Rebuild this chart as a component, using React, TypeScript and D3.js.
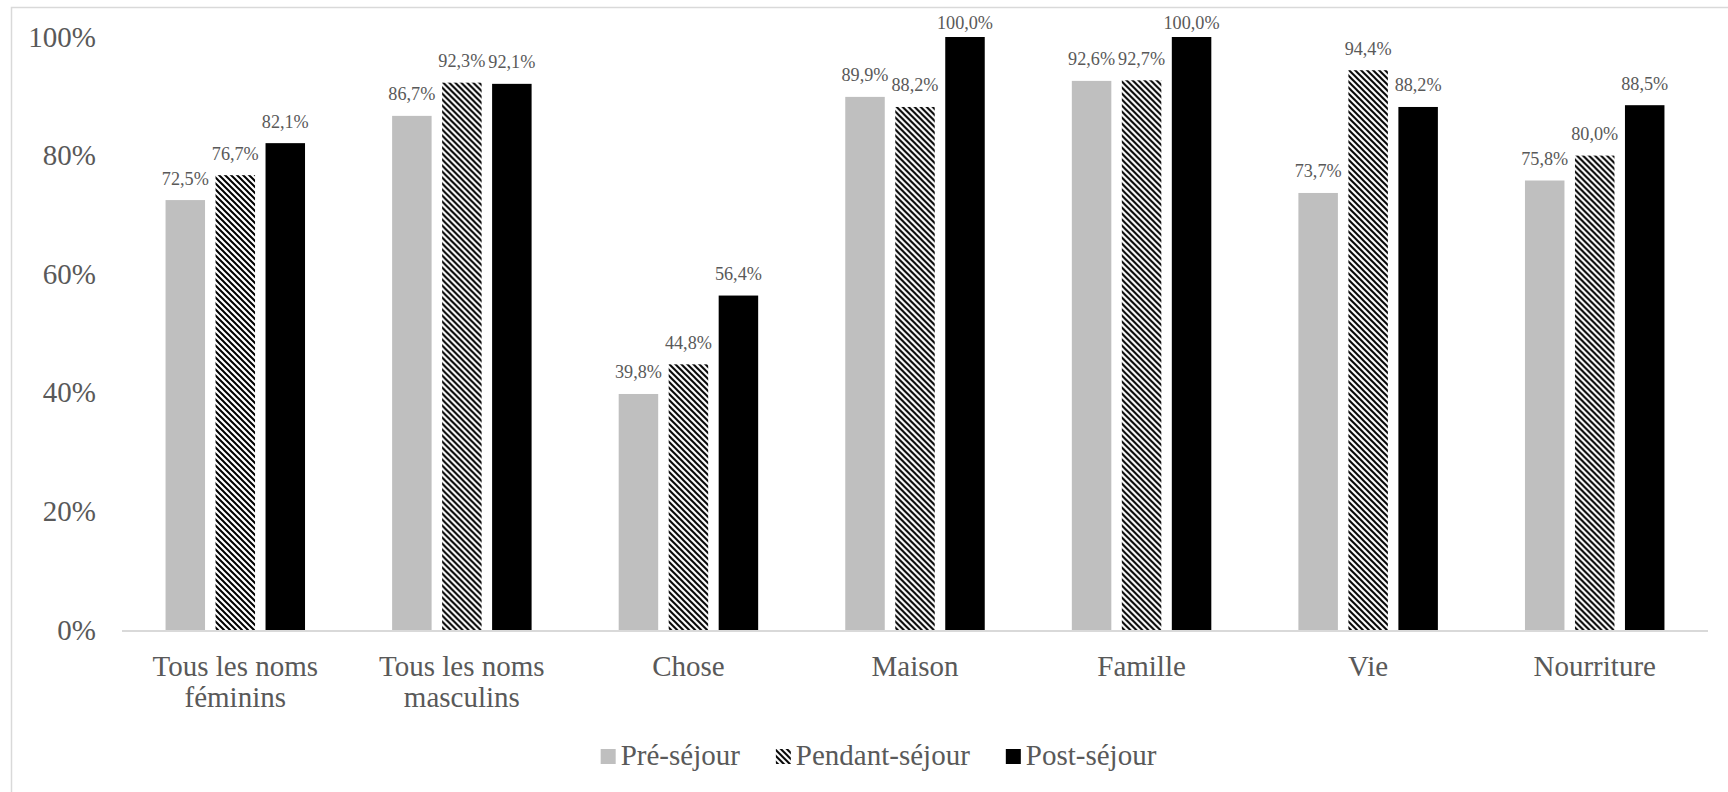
import React from "react";
import * as d3 from "d3";

const categories = [
  "Tous les noms féminins",
  "Tous les noms masculins",
  "Chose",
  "Maison",
  "Famille",
  "Vie",
  "Nourriture",
];
const seriesNames = ["Pré-séjour", "Pendant-séjour", "Post-séjour"];
const preSejour = [72.5, 86.7, 39.8, 89.9, 92.6, 73.7, 75.8];
const pendantSejour = [76.7, 92.3, 44.8, 88.2, 92.7, 94.4, 80.0];
const postSejour = [82.1, 92.1, 56.4, 100.0, 100.0, 88.2, 88.5];
const yTicks = [0, 20, 40, 60, 80, 100];

const W = 1728;
const H = 792;
const FONT = "Liberation Serif, Times New Roman, Tinos, DejaVu Serif, serif";
const TEXT = "#595959";
const fills = ["#bfbfbf", "url(#hatch)", "#000000"];

function wrap(label: string): string[] {
  if (label.length <= 14) return [label];
  const words = label.split(" ");
  const last = words.pop() as string;
  return [words.join(" "), last];
}

function measure(text: string, size: number): number {
  const c = document.createElement("canvas").getContext("2d");
  if (!c) return text.length * size * 0.45;
  c.font = `${size}px ${FONT}`;
  return c.measureText(text).width;
}

export default function App() {
  const x0 = d3.scaleBand<string>().domain(categories).range([122, 1708]).padding(0);
  const x1 = d3
    .scaleBand<string>()
    .domain(seriesNames)
    .range([0, x0.step()])
    .paddingInner(0.21)
    .paddingOuter(0.871);
  const y = d3.scaleLinear().domain([0, 100]).range([630, 37]);
  const data = [preSejour, pendantSejour, postSejour];
  const fmt = (v: number) => v.toFixed(1).replace(".", ",") + "%";

  const legendFont = 29;
  const sq = 15;
  const itemWidths = seriesNames.map((s) => sq + 5 + measure(s, legendFont));
  const legendGap = 36;
  const legendTotal = itemWidths.reduce((a, b) => a + b, 0) + legendGap * (seriesNames.length - 1);
  let lx = 878.5 - legendTotal / 2;
  const legendX = itemWidths.map((w) => {
    const p = lx;
    lx += w + legendGap;
    return p;
  });

  const ts = { fontFamily: FONT };

  return (
    <div style={{ position: "absolute", left: 0, top: 0 }}>
      <svg width={W} height={H} style={{ display: "block", background: "#fff", fontFamily: FONT }}>
        <defs>
          <pattern id="hatch" patternUnits="userSpaceOnUse" width={6} height={6}>
            <rect width={6} height={6} fill="#fff" />
            <path d="M-2,-2 L8,8 M4,-2 L8,2 M-2,4 L2,8" stroke="#000" strokeWidth={2} />
          </pattern>
        </defs>
        <rect x={11.5} y={7.5} width={1740} height={820} fill="#fff" stroke="#d9d9d9" strokeWidth={1.5} />
        {yTicks.map((t) => (
          <text key={t} x={96} y={y(t) + 9.5} textAnchor="end" style={ts} fontSize={29} fill={TEXT}>
            {t}%
          </text>
        ))}
        {categories.map((c, ci) => (
          <g key={c} transform={`translate(${x0(c)},0)`}>
            {seriesNames.map((s, si) => {
              const v = data[si][ci];
              const bx = x1(s) as number;
              const bw = x1.bandwidth();
              return (
                <g key={s}>
                  <rect x={bx} y={y(v)} width={bw} height={y(0) - y(v)} fill={fills[si]} />
                  <text
                    x={bx + bw / 2}
                    y={Math.max(y(v) - 15.5, 29)}
                    textAnchor="middle"
                    style={ts}
                    fontSize={18.2}
                    fill={TEXT}
                  >
                    {fmt(v)}
                  </text>
                </g>
              );
            })}
            {wrap(c).map((line, li) => (
              <text
                key={li}
                x={x0.bandwidth() / 2}
                y={675.5 + li * 31.5}
                textAnchor="middle"
                style={ts}
                fontSize={29}
                fill={TEXT}
              >
                {line}
              </text>
            ))}
          </g>
        ))}
        <line x1={122} x2={1708} y1={631} y2={631} stroke="#d9d9d9" strokeWidth={2} />
        {seriesNames.map((s, i) => (
          <g key={s} transform={`translate(${legendX[i]},0)`}>
            <rect x={0} y={749} width={sq} height={sq} fill={fills[i]} />
            <text x={sq + 5} y={765} style={ts} fontSize={legendFont} fill={TEXT}>
              {s}
            </text>
          </g>
        ))}
      </svg>
    </div>
  );
}
